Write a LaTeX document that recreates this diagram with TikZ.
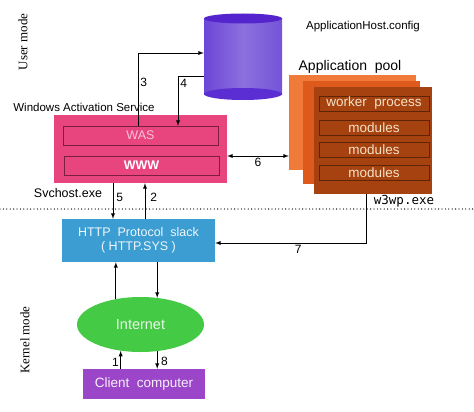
\documentclass[tikz,border=0pt]{standalone}
\usepackage{fontspec}
\setmainfont{Liberation Sans}
\newfontfamily\modefont{Liberation Serif}
\newfontfamily\exefont{DejaVu Sans Mono}
\usetikzlibrary{positioning, shapes.geometric}

\definecolor{waspink}{HTML}{E8457F}
\definecolor{wasline}{HTML}{7A1F42}
\definecolor{wastext}{HTML}{F8C4DA}
\definecolor{httpblue}{HTML}{3C9DD2}
\definecolor{inetgreen}{HTML}{44CA44}
\definecolor{clientpurple}{HTML}{9B45C8}
\definecolor{poolA}{HTML}{F07A3A}
\definecolor{poolB}{HTML}{DD5A1C}
\definecolor{poolC}{HTML}{A5420F}
\definecolor{poolline}{HTML}{5E2408}
\definecolor{pooltext}{HTML}{F6E2C6}
\definecolor{cylL}{HTML}{6C46D6}
\definecolor{cylM}{HTML}{8C70DE}
\definecolor{cylR}{HTML}{7454D8}
\definecolor{cyltop}{HTML}{5424CC}
\definecolor{cylbot}{HTML}{5A2ED2}

\tikzset{
    fsize/.style={font=\fontsize{#1}{#1}\selectfont},
    inbox/.style={draw=wasline, fill=waspink, text=wastext, minimum width=155pt, minimum height=19pt, inner sep=0pt, fsize=12.5},
    modbox/.style={draw=poolline, fill=poolC, text=pooltext, minimum width=110pt, minimum height=15pt, inner sep=0pt, fsize=13.5},
    num/.style={fsize=12, inner sep=2pt},
    link/.style={line width=0.9pt, -latex},
    modelabel/.style={rotate=90, font=\modefont\fontsize{13}{13}\selectfont}
}

\begin{document}
\begin{tikzpicture}[x=1pt, y=-1pt]
        \useasboundingbox (0,0) rectangle (474,412);
        % ApplicationHost.config store
        \shade[left color=cylL, right color=cylR, middle color=cylM] (204,18.5) rectangle (282,94);
        \fill[cylbot] (243,94) ellipse[x radius=39pt, y radius=6pt];
        \fill[cyltop] (243,18.5) ellipse[x radius=39pt, y radius=5pt];
        \node[minimum width=78pt, minimum height=76pt, inner sep=0pt] (cfg) at (243,56) {};
        \node[fsize=11.5] (cfgname) at (363,27) {ApplicationHost.config};

        \node[modelabel] (umode) at (23,42) {User mode};
        \node[modelabel] (kmode) at (25,340) {Kernel mode};

        % WAS service
        \node[fsize=11.5] (wastitle) at (84,107) {Windows Activation Service};
        \node[fill=waspink, minimum width=173pt, minimum height=68pt] (wpas) at (140.5,149) {};
        \node[inbox] (was) at (140.5,135.5) {WAS};
        \node[inbox, text=white, font=\bfseries\fontsize{12.5}{12.5}\selectfont] (www) at (141.5,165.5) {WWW};
        \node[fsize=12.5] (svchost) at (68,193) {Svchost.exe};

        % application pool
        \node[fsize=14] (pooltitle) at (350,67) {Application\ \ pool};
        \node[fill=poolA, minimum width=127pt, minimum height=95pt] (pool1) at (352.5,122.5) {};
        \node[fill=poolB, minimum width=117pt, minimum height=103pt] (pool2) at (361.5,132.5) {};
        \node[fill=poolC, minimum width=118pt, minimum height=107pt] (pool3) at (373,140.5) {};
        \node[modbox] (wp) at (374,103.5) {worker\ \ process};
        \node[modbox] (mod1) at (374,127.5) {modules};
        \node[modbox] (mod2) at (374,149.5) {modules};
        \node[modbox] (mod3) at (374,172.5) {modules};
        \node[font=\exefont\fontsize{12.5}{12.5}\selectfont] (w3wp) at (404,201) {w3wp.exe};

        % kernel side
        \node[fill=httpblue, text=white!92!httpblue, minimum width=153pt, minimum height=43pt, align=center, fsize=12.5] (http) at (138.5,240.5) {HTTP\ \ Protocol\ \ slack\\[1pt]( HTTP.SYS )};
        \node[ellipse, fill=inetgreen, text=white!88!inetgreen, minimum width=127pt, minimum height=55pt, fsize=14.5] (inet) at (140.5,324.5) {Internet};
        \node[fill=clientpurple, text=white!92!clientpurple, minimum width=122pt, minimum height=30pt, fsize=13.5] (client) at (144,384) {Client\ \ computer};

        \draw[line width=1.3pt, line cap=round, dash pattern=on 0pt off 3.4pt] (0,209) -- (474,209);

        % numbered requests
        \draw[link] ([xshift=-2.5pt]was.north) |- ([yshift=3pt]cfg.west) node[num, pos=0.3, right] (n3) {3};
        \draw[link] ([yshift=-20pt]cfg.west) -| ([xshift=37.5pt]was.north) node[num, pos=0.57, right] (n4) {4};
        \draw[link] ([xshift=-27.5pt]wpas.south) -- ([xshift=-27.5pt]wpas.south |- http.north) node[num, pos=0.4, right, xshift=1pt] (n5) {5};
        \draw[link] ([xshift=6.5pt]http.north) -- ([xshift=6.5pt]http.north |- wpas.south) node[num, pos=0.6, right, xshift=3pt] (n2) {2};
        \draw[link, latex-latex] ([yshift=-7pt]wpas.east) -- ([yshift=-7pt]wpas.east -| pool1.west) node[num, midway, below] (n6) {6};
        \draw[link] ([xshift=-7pt]pool3.south) |- ([yshift=-2.5pt]http.east) node[num, pos=0.725, below] (n7) {7};
        \draw[link] (inet.134) -- (inet.134 |- http.south);
        \draw[link] (http.south -| inet.58) -- (inet.58);
        \draw[link] (client.north -| inet.233) -- (inet.233) node[num, pos=0.35, left, inner sep=1.5pt] (n1) {1};
        \draw[link] (inet.302) -- (inet.302 |- client.north) node[num, pos=0.55, right, inner sep=3.5pt] (n8) {8};
    \end{tikzpicture}
\end{document}
